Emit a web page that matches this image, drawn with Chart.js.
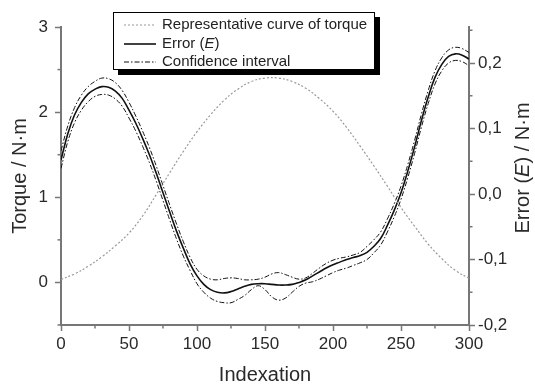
<!DOCTYPE html>
<html>
<head>
<meta charset="utf-8">
<script src="https://cdn.jsdelivr.net/npm/chart.js@4/dist/chart.umd.min.js"></script>
<style>
  body { margin: 0; background: #fff; }
  #wrap { position: relative; width: 535px; height: 385px; }
  #legend {
    position: absolute; left: 113px; top: 12px; width: 260px; height: 54px;
    border: 1px solid #000; background: #fff; box-shadow: 5px 5px 0 #000;
    font: 15px 'Liberation Sans', Arial, sans-serif; color: #222; padding-top: 2px;
  }
  #legend .row { height: 18.5px; line-height: 18.5px; white-space: nowrap; }
  #legend svg { vertical-align: middle; margin: 0 6px 0 10px; }
</style>
</head>
<body>
<div id="wrap">
  <canvas id="chart" width="535" height="385"></canvas>
  <div id="legend">
    <div class="row"><svg width="32" height="4"><line x1="0" y1="2" x2="32" y2="2" stroke="#999" stroke-width="1.2" stroke-dasharray="2,2"/></svg>Representative curve of torque</div>
    <div class="row"><svg width="32" height="4"><line x1="0" y1="2" x2="32" y2="2" stroke="#111" stroke-width="1.6"/></svg>Error (<i>E</i>)</div>
    <div class="row"><svg width="32" height="4"><line x1="0" y1="2" x2="32" y2="2" stroke="#111" stroke-width="1" stroke-dasharray="5,2,1.5,2"/></svg>Confidence interval</div>
  </div>
</div>
<script>
// torque curve (left axis)
const torqueIndex = [0, 10, 20, 30, 40, 50, 60, 70, 80, 90, 100, 110, 120, 130, 140, 150,
  160, 170, 180, 190, 200, 210, 220, 230, 240, 250, 260, 270, 280, 290, 300];
const torque = [0.035, 0.10, 0.19, 0.30, 0.43, 0.58, 0.78, 1.03, 1.29, 1.54, 1.77, 1.97, 2.14, 2.27, 2.36, 2.40,
  2.40, 2.36, 2.28, 2.16, 2.01, 1.82, 1.60, 1.37, 1.13, 0.88, 0.66, 0.45, 0.28, 0.14, 0.05];

// error + confidence interval (right axis)
const indexation = [0, 5, 10, 15, 20, 25, 30, 35, 40, 45, 50, 55, 60, 65, 70, 75, 80, 85, 90, 95,
  100, 105, 110, 115, 120, 125, 130, 135, 140, 145, 150, 155, 160, 165, 170, 175, 180, 185, 190, 195,
  200, 205, 210, 215, 220, 225, 230, 235, 240, 245, 250, 255, 260, 265, 270, 275, 280, 285, 290, 295, 300];
const errorE = [0.052, 0.092, 0.121, 0.140, 0.153, 0.160, 0.164, 0.163, 0.157, 0.146,
  0.128, 0.108, 0.085, 0.060, 0.032, 0.002, -0.028, -0.057, -0.083, -0.107,
  -0.125, -0.138, -0.146, -0.150, -0.151, -0.149, -0.145, -0.141, -0.138, -0.137,
  -0.137, -0.138, -0.139, -0.139, -0.138, -0.135, -0.131, -0.125, -0.119, -0.113,
  -0.108, -0.104, -0.100, -0.097, -0.094, -0.089, -0.080, -0.068, -0.048, -0.025,
  0.002, 0.035, 0.072, 0.112, 0.148, 0.178, 0.198, 0.210, 0.214, 0.212, 0.206];
const upperCI = [0.066, 0.104, 0.132, 0.151, 0.164, 0.172, 0.177, 0.176, 0.170, 0.158,
  0.140, 0.119, 0.096, 0.071, 0.043, 0.013, -0.017, -0.046, -0.073, -0.097,
  -0.115, -0.125, -0.130, -0.131, -0.129, -0.128, -0.129, -0.131, -0.131, -0.130,
  -0.127, -0.122, -0.120, -0.123, -0.127, -0.130, -0.128, -0.121, -0.113, -0.106,
  -0.101, -0.098, -0.096, -0.093, -0.089, -0.080, -0.070, -0.058, -0.038, -0.015,
  0.012, 0.045, 0.082, 0.122, 0.158, 0.188, 0.208, 0.220, 0.224, 0.222, 0.216];
const lowerCI = [0.039, 0.080, 0.109, 0.128, 0.141, 0.149, 0.152, 0.151, 0.145, 0.134,
  0.116, 0.096, 0.073, 0.048, 0.020, -0.010, -0.040, -0.069, -0.095, -0.117,
  -0.137, -0.150, -0.159, -0.164, -0.166, -0.166, -0.161, -0.155, -0.146, -0.140,
  -0.146, -0.157, -0.162, -0.159, -0.150, -0.141, -0.136, -0.134, -0.130, -0.125,
  -0.120, -0.116, -0.113, -0.109, -0.105, -0.100, -0.090, -0.078, -0.058, -0.035,
  -0.008, 0.025, 0.062, 0.102, 0.138, 0.168, 0.188, 0.200, 0.204, 0.202, 0.196];

const xTicks = [0, 25, 50, 75, 100, 125, 150, 175, 200, 225, 250, 275, 300];
const yTicks = [-0.5, 0, 0.5, 1, 1.5, 2, 2.5, 3];
const y1Ticks = [-0.2, -0.15, -0.1, -0.05, 0, 0.05, 0.1, 0.15, 0.2, 0.25];

const axisColor = '#777';
const textColor = '#2a2a2a';
Chart.defaults.font.family = "'Liberation Sans', Arial, sans-serif";

const pts = (xs, ys) => xs.map((x, i) => ({ x: x, y: ys[i] }));
const isMajor = (v, step) => Math.abs(v / step - Math.round(v / step)) < 1e-6;

const axisGrid = {
  drawOnChartArea: false,
  tickLength: 6,
  tickWidth: 1.5,
  tickColor: c => (c.tick && c.tick.label === '') ? 'rgba(0,0,0,0)' : axisColor
};

// short minor ticks + right axis title with italic E
const extras = {
  id: 'extras',
  afterDraw(chart) {
    const ctx = chart.ctx;
    ctx.save();
    ctx.strokeStyle = axisColor;
    ctx.lineWidth = 1.5;
    ['x', 'y', 'y1'].forEach(id => {
      const s = chart.scales[id];
      s.ticks.forEach(t => {
        if (t.label !== '') return;
        const p = s.getPixelForValue(t.value);
        ctx.beginPath();
        if (id === 'x') { ctx.moveTo(p, s.top); ctx.lineTo(p, s.top + 3.5); }
        else if (id === 'y') { ctx.moveTo(s.right, p); ctx.lineTo(s.right - 3.5, p); }
        else { ctx.moveTo(s.left, p); ctx.lineTo(s.left + 3.5, p); }
        ctx.stroke();
      });
    });

    const parts = [['Error (', ''], ['E', 'italic '], [') / N·m', '']];
    const family = Chart.defaults.font.family;
    let total = 0;
    parts.forEach(p => { ctx.font = p[1] + '20px ' + family; total += ctx.measureText(p[0]).width; });
    ctx.translate(523, 168);
    ctx.rotate(-Math.PI / 2);
    ctx.fillStyle = textColor;
    ctx.textBaseline = 'middle';
    let x = -total / 2;
    parts.forEach(p => {
      ctx.font = p[1] + '20px ' + family;
      ctx.fillText(p[0], x, 0);
      x += ctx.measureText(p[0]).width;
    });
    ctx.restore();
  }
};

new Chart(document.getElementById('chart'), {
  type: 'line',
  data: {
    datasets: [
      {
        label: 'Representative curve of torque',
        data: pts(torqueIndex, torque),
        yAxisID: 'y',
        borderColor: '#999',
        borderWidth: 1.2,
        borderDash: [2, 2]
      },
      {
        label: 'Confidence interval',
        data: pts(indexation, upperCI),
        yAxisID: 'y1',
        borderColor: '#111',
        borderWidth: 1,
        borderDash: [5, 2, 1.5, 2]
      },
      {
        label: 'Confidence interval',
        data: pts(indexation, lowerCI),
        yAxisID: 'y1',
        borderColor: '#111',
        borderWidth: 1,
        borderDash: [5, 2, 1.5, 2]
      },
      {
        label: 'Error (E)',
        data: pts(indexation, errorE),
        yAxisID: 'y1',
        borderColor: '#111',
        borderWidth: 1.6
      }
    ]
  },
  options: {
    responsive: false,
    animation: false,
    layout: { padding: { top: 27, left: 0, right: 0, bottom: 0 } },
    elements: {
      point: { radius: 0 },
      line: { tension: 0.4, fill: false }
    },
    plugins: {
      legend: { display: false },
      tooltip: { enabled: false }
    },
    scales: {
      x: {
        type: 'linear',
        min: 0, max: 300,
        afterBuildTicks: s => { s.ticks = xTicks.map(v => ({ value: v })); },
        afterFit: s => { s.height = 60; },
        ticks: {
          color: textColor, font: { size: 17 }, padding: 3, maxRotation: 0,
          callback: v => isMajor(v, 50) ? String(v) : ''
        },
        grid: axisGrid,
        border: { color: axisColor, width: 2 },
        title: {
          display: true, text: 'Indexation', color: textColor,
          font: { size: 20, lineHeight: 1 }, padding: { top: 0, bottom: 0 }
        }
      },
      y: {
        position: 'left',
        min: -0.5, max: 3,
        afterBuildTicks: s => { s.ticks = yTicks.map(v => ({ value: v })); },
        afterFit: s => { s.width = 61; },
        ticks: {
          color: textColor, font: { size: 17 }, padding: 7,
          callback: v => isMajor(v, 1) ? String(v) : ''
        },
        grid: axisGrid,
        border: { color: axisColor, width: 2 },
        title: {
          display: true, text: 'Torque / N·m', color: textColor,
          font: { size: 20, lineHeight: 1.2 }, padding: { top: 8, bottom: 0 }
        }
      },
      y1: {
        position: 'right',
        min: -0.2, max: 0.255,
        afterBuildTicks: s => { s.ticks = y1Ticks.map(v => ({ value: v })); },
        afterFit: s => { s.width = 66; },
        ticks: {
          color: textColor, font: { size: 17 }, padding: 3,
          callback: v => isMajor(v, 0.1) ? v.toFixed(1).replace('.', ',') : ''
        },
        grid: axisGrid,
        border: { color: axisColor, width: 2 }
      }
    }
  },
  plugins: [extras]
});
</script>
</body>
</html>
